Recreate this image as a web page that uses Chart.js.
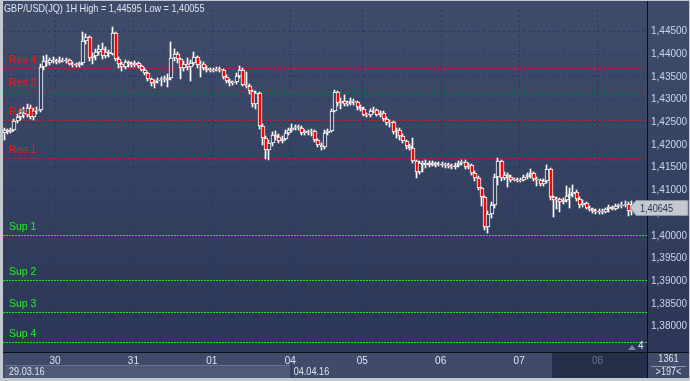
<!DOCTYPE html>
<html>
<head>
<meta charset="utf-8">
<script src="https://cdn.jsdelivr.net/npm/chart.js@4.4.0/dist/chart.umd.min.js"></script>
<style>
html, body { margin: 0; padding: 0; background: #2e3856; }
#wrap { position: relative; width: 690px; height: 381px; }
</style>
</head>
<body>
<div id="wrap"><canvas id="chart" width="690" height="381"></canvas></div>
<script>
// GBP/USD 1H candles
var opens = [
1.4226,1.4232,1.4229,1.4233,1.4252,1.4262,1.4270,1.4266,1.4282,1.4262,
1.4274,1.4277,1.4372,1.4386,1.4380,1.4388,1.4386,1.4383,1.4388,1.4385,
1.4387,1.4379,1.4377,1.4376,1.4380,1.4430,1.4437,1.4392,1.4396,1.4405,
1.4412,1.4396,1.4406,1.4400,1.4446,1.4390,1.4378,1.4372,1.4382,1.4378,
1.4376,1.4381,1.4374,1.4366,1.4358,1.4345,1.4336,1.4340,1.4343,1.4346,
1.4344,1.4348,1.4392,1.4400,1.4389,1.4370,1.4378,1.4373,1.4381,1.4393,
1.4376,1.4379,1.4370,1.4366,1.4364,1.4366,1.4367,1.4365,1.4350,1.4342,
1.4336,1.4338,1.4352,1.4366,1.4333,1.4331,1.4318,1.4290,1.4314,1.4242,
1.4216,1.4190,1.4204,1.4222,1.4218,1.4209,1.4214,1.4226,1.4232,1.4238,
1.4240,1.4237,1.4226,1.4230,1.4228,1.4230,1.4210,1.4200,1.4196,1.4226,
1.4231,1.4275,1.4316,1.4292,1.4298,1.4290,1.4293,1.4298,1.4294,1.4283,
1.4280,1.4267,1.4266,1.4275,1.4277,1.4267,1.4271,1.4258,1.4248,1.4250,
1.4228,1.4233,1.4220,1.4208,1.4198,1.4194,1.4165,1.4140,1.4160,1.4157,
1.4161,1.4157,1.4160,1.4156,1.4158,1.4156,1.4157,1.4154,1.4152,1.4156,
1.4161,1.4162,1.4152,1.4155,1.4138,1.4128,1.4105,1.4085,1.4020,1.4048,
1.4068,1.4130,1.4165,1.4128,1.4135,1.4130,1.4123,1.4124,1.4121,1.4124,
1.4130,1.4133,1.4138,1.4126,1.4122,1.4114,1.4120,1.4148,1.4085,1.4079,
1.4081,1.4075,1.4078,1.4088,1.4093,1.4096,1.4082,1.4068,1.4072,1.4062,
1.4058,1.4055,1.4052,1.4054,1.4053,1.4058,1.4063,1.4060,1.4065,1.4066,
1.4068,1.4070,1.4055
];
var highs = [
1.4238,1.4236,1.4238,1.4258,1.4268,1.4279,1.4283,1.4291,1.4288,1.4281,
1.4284,1.4378,1.4396,1.4398,1.4392,1.4393,1.4390,1.4394,1.4392,1.4391,
1.4390,1.4383,1.4381,1.4384,1.4450,1.4445,1.4440,1.4402,1.4412,1.4420,
1.4424,1.4415,1.4410,1.44595,1.4450,1.4394,1.4384,1.4387,1.4386,1.4383,
1.4385,1.4384,1.4377,1.4369,1.4360,1.4348,1.4344,1.4348,1.4350,1.4352,
1.4356,1.4426,1.4412,1.4404,1.4392,1.4385,1.4392,1.4388,1.4405,1.4397,
1.4386,1.4382,1.4374,1.4370,1.4370,1.4371,1.4372,1.4368,1.4354,1.4346,
1.4342,1.4358,1.4375,1.4369,1.4360,1.4335,1.4321,1.4318,1.4317,1.4246,
1.4220,1.4210,1.4228,1.4230,1.4224,1.4220,1.4232,1.4238,1.4246,1.4245,
1.4243,1.4242,1.4234,1.4234,1.4235,1.4232,1.4214,1.4205,1.4232,1.4236,
1.4280,1.4321,1.4319,1.4304,1.4310,1.4298,1.4303,1.4302,1.4297,1.4288,
1.4283,1.4271,1.4279,1.4283,1.4280,1.4276,1.4274,1.4262,1.4256,1.4253,
1.4238,1.4237,1.4224,1.4212,1.4202,1.4215,1.4168,1.4165,1.4165,1.4166,
1.4164,1.4164,1.4163,1.4162,1.4163,1.4161,1.4160,1.4158,1.4160,1.4165,
1.4166,1.4166,1.4160,1.4158,1.4142,1.4131,1.4108,1.4088,1.4054,1.4074,
1.4136,1.4172,1.4168,1.4140,1.4138,1.4133,1.4128,1.4127,1.4128,1.4135,
1.4138,1.4148,1.4141,1.4130,1.4126,1.4125,1.4156,1.4150,1.4088,1.4085,
1.4084,1.4083,1.4110,1.4106,1.4112,1.4100,1.4085,1.4078,1.4075,1.4066,
1.4062,1.4060,1.4058,1.4058,1.4062,1.4068,1.4066,1.4070,1.4071,1.4074,
1.4076,1.4074,1.4076
];
var lows = [
1.4210,1.4224,1.4226,1.4230,1.4248,1.4256,1.4260,1.4262,1.4257,1.4255,
1.4268,1.4272,1.4366,1.4374,1.4376,1.4380,1.4379,1.4381,1.4382,1.4381,
1.4376,1.4372,1.4371,1.4372,1.4376,1.4422,1.4386,1.4378,1.4388,1.4398,
1.4390,1.4392,1.4394,1.4398,1.4385,1.4370,1.4364,1.4367,1.4372,1.4371,
1.4373,1.4370,1.4362,1.4354,1.4340,1.4330,1.4325,1.4336,1.4330,1.4338,
1.4328,1.4344,1.4386,1.4380,1.4345,1.4362,1.4366,1.4342,1.4376,1.4370,
1.4350,1.4365,1.4361,1.4360,1.4361,1.4362,1.4361,1.4346,1.4337,1.4330,
1.4332,1.4334,1.4348,1.4329,1.4326,1.4313,1.4284,1.4280,1.4236,1.4200,
1.4170,1.4168,1.4198,1.4212,1.4204,1.4205,1.4210,1.4222,1.4228,1.4234,
1.4232,1.4222,1.4222,1.4223,1.4220,1.4206,1.4195,1.4188,1.4192,1.4222,
1.4228,1.4272,1.4286,1.4280,1.4286,1.4285,1.4288,1.4289,1.4278,1.4275,
1.4263,1.4261,1.4262,1.4270,1.4263,1.4262,1.4254,1.4244,1.4240,1.4224,
1.4215,1.4212,1.4205,1.4192,1.4188,1.4160,1.4128,1.4136,1.4140,1.4150,
1.4152,1.4153,1.4152,1.4153,1.4151,1.4150,1.4150,1.4147,1.4148,1.4152,
1.4157,1.4148,1.4148,1.4134,1.4120,1.4100,1.4066,1.4012,1.40055,1.4040,
1.4062,1.4112,1.4120,1.4122,1.4108,1.4119,1.4120,1.4118,1.4118,1.4120,
1.4126,1.4128,1.4121,1.4110,1.4109,1.4110,1.4116,1.4078,1.4042,1.4058,
1.4052,1.4070,1.4074,1.4062,1.4085,1.4076,1.4062,1.4064,1.4058,1.4054,
1.4051,1.4048,1.4049,1.4049,1.4050,1.4052,1.4056,1.4057,1.4061,1.4062,
1.4064,1.4043,1.4045
];
var closes = [
1.4232,1.4229,1.4233,1.4252,1.4262,1.4270,1.4266,1.4282,1.4262,1.4274,
1.4277,1.4372,1.4386,1.4380,1.4388,1.4386,1.4383,1.4388,1.4385,1.4387,
1.4379,1.4377,1.4376,1.4380,1.4430,1.4437,1.4392,1.4396,1.4405,1.4412,
1.4396,1.4406,1.4400,1.4446,1.4390,1.4378,1.4372,1.4382,1.4378,1.4376,
1.4381,1.4374,1.4366,1.4358,1.4345,1.4336,1.4340,1.4343,1.4346,1.4344,
1.4348,1.4392,1.4400,1.4389,1.4370,1.4378,1.4373,1.4381,1.4393,1.4376,
1.4379,1.4370,1.4366,1.4364,1.4366,1.4367,1.4365,1.4350,1.4342,1.4336,
1.4338,1.4352,1.4366,1.4333,1.4331,1.4318,1.4290,1.4314,1.4242,1.4216,
1.4190,1.4204,1.4222,1.4218,1.4209,1.4214,1.4226,1.4232,1.4238,1.4240,
1.4237,1.4226,1.4230,1.4228,1.4230,1.4210,1.4200,1.4196,1.4226,1.4231,
1.4275,1.4316,1.4292,1.4298,1.4290,1.4293,1.4298,1.4294,1.4283,1.4280,
1.4267,1.4266,1.4275,1.4277,1.4267,1.4271,1.4258,1.4248,1.4250,1.4228,
1.4233,1.4220,1.4208,1.4198,1.4194,1.4165,1.4140,1.4160,1.4157,1.4161,
1.4157,1.4160,1.4156,1.4158,1.4156,1.4157,1.4154,1.4152,1.4156,1.4161,
1.4162,1.4152,1.4155,1.4138,1.4128,1.4105,1.4085,1.4020,1.4048,1.4068,
1.4130,1.4165,1.4128,1.4135,1.4130,1.4123,1.4124,1.4121,1.4124,1.4130,
1.4133,1.4138,1.4126,1.4122,1.4114,1.4120,1.4148,1.4085,1.4079,1.4081,
1.4075,1.4078,1.4088,1.4093,1.4096,1.4082,1.4068,1.4072,1.4062,1.4058,
1.4055,1.4052,1.4054,1.4053,1.4058,1.4063,1.4060,1.4065,1.4066,1.4068,
1.4070,1.4055,1.40645
];

// x axis: one slot per hour, day labels on the first hour of each day
var dayNames = ['30', '31', '01', '04', '05', '06', '07', '08'];
var dayStart = [16, 40, 64, 88, 110, 134, 158, 182];
var slotCount = 197;
var dateTags = ['29.03.16', '04.04.16'];
var barsTotal = 1361;

// support / resistance levels
var levelNames = ['Res 4', 'Res 3', 'Res 2', 'Res 1', 'Sup 1', 'Sup 2', 'Sup 3', 'Sup 4'];
var levelValues = [1.4370, 1.4318, 1.4255, 1.4171, 1.4001, 1.3902, 1.3832, 1.3766];

var yMin = 1.37439, yMax = 1.44975, yStep = 0.005;

var FONT = "'Liberation Sans', Arial, sans-serif";
var GRID = '#1c3a6c';
var NARROW = 0.83;   // the terminal font is a condensed one

function fmt(v) { return v.toFixed(5).replace('.', ','); }

// condensed text: squeeze horizontally around the anchor point
function narrowText(ctx, text, x, y) {
    ctx.save();
    ctx.translate(x, y);
    ctx.scale(NARROW, 1);
    ctx.fillText(text, 0, 0);
    ctx.restore();
}

var labels = [];
for (var i = 0; i < slotCount; i++) {
    var k = dayStart.indexOf(i);
    labels.push(k >= 0 ? dayNames[k] : '');
}

var bodies = [], wicks = [], fills = [];
for (var i = 0; i < opens.length; i++) {
    bodies.push([opens[i], closes[i]]);
    wicks.push([lows[i], highs[i]]);
    fills.push(closes[i] < opens[i] ? '#ff0000' : '#34405e');
}

var chrome = {
    id: 'chrome',
    beforeDraw: function(chart) {
        var ctx = chart.ctx, a = chart.chartArea, W = chart.width, H = chart.height;
        ctx.save();
        var g = ctx.createLinearGradient(0, a.top, 0, a.bottom);
        g.addColorStop(0, '#3e4c6a');
        g.addColorStop(1, '#2c3656');
        ctx.fillStyle = g;
        ctx.fillRect(0, 0, W, a.bottom);
        ctx.fillStyle = '#3f4b68';
        ctx.fillRect(0, a.bottom, W, H - a.bottom);
        // darker scroll thumb under the last day
        ctx.fillStyle = '#262f4a';
        ctx.fillRect(552, a.bottom + 1, a.right - 552, H - a.bottom - 3);
        // date boxes
        var x = chart.scales.x;
        var split = x.getPixelForValue(dayStart[3]) - (x.width / slotCount) / 2;
        ctx.fillStyle = '#4d5977';
        ctx.fillRect(5, 366, split - 5, 12);
        ctx.fillStyle = '#66718d';
        ctx.fillRect(5, 365, split - 5, 1);
        ctx.fillStyle = '#2a3350';
        ctx.fillRect(split, 365, 1, 13);
        ctx.restore();
    },
    beforeDatasetsDraw: function(chart) {
        var ctx = chart.ctx, a = chart.chartArea, y = chart.scales.y;
        // keep candles on whole pixels so they stay crisp
        chart.getDatasetMeta(0).data.forEach(function(el) {
            el.x = Math.round(el.x);
            el.y = Math.round(el.y);
            el.base = Math.round(el.base);
        });
        chart.getDatasetMeta(1).data.forEach(function(el) {
            el.x = Math.round(el.x) - 0.5;
            el.y = Math.round(el.y);
            el.base = Math.round(el.base);
        });
        ctx.save();
        ctx.lineWidth = 1;
        levelNames.forEach(function(name, i) {
            var py = Math.round(y.getPixelForValue(levelValues[i])) + 0.5;
            var isRes = name.indexOf('Res') === 0;
            ctx.strokeStyle = isRes ? '#c41c1c' : '#1ee61e';
            ctx.setLineDash(isRes ? [3, 2] : [2, 1]);
            ctx.beginPath();
            ctx.moveTo(a.left, py);
            ctx.lineTo(a.right, py);
            ctx.stroke();
        });
        ctx.restore();
    },
    afterDatasetsDraw: function(chart) {
        var ctx = chart.ctx, y = chart.scales.y;
        ctx.save();
        ctx.font = '10.5px ' + FONT;
        ctx.textBaseline = 'bottom';
        levelNames.forEach(function(name, i) {
            var py = Math.round(y.getPixelForValue(levelValues[i]));
            ctx.fillStyle = name.indexOf('Res') === 0 ? '#ff1414' : '#22ee22';
            ctx.fillText(name, 9, py - 3);
        });
        ctx.restore();
    },
    afterDraw: function(chart) {
        var ctx = chart.ctx, a = chart.chartArea, W = chart.width, H = chart.height, y = chart.scales.y;
        ctx.save();
        // axis borders
        ctx.fillStyle = '#0c0f18';
        ctx.fillRect(a.right, 0, 1, H);
        ctx.fillRect(0, a.bottom, W, 1);
        // title
        var hi = Math.max.apply(null, highs), lo = Math.min.apply(null, lows);
        ctx.font = '11px ' + FONT;
        ctx.textBaseline = 'middle';
        ctx.fillStyle = '#dfe5f0';
        narrowText(ctx, 'GBP/USD(JQ) 1H High = ' + fmt(hi) + ' Low = ' + fmt(lo), 4, 9);
        // date tags
        var x = chart.scales.x;
        var split = x.getPixelForValue(dayStart[3]) - (x.width / slotCount) / 2;
        narrowText(ctx, dateTags[0], 9, 372);
        narrowText(ctx, dateTags[1], split + 3, 372);
        // bars counter cell
        ctx.textAlign = 'center';
        narrowText(ctx, String(barsTotal), (a.right + W) / 2, 359);
        narrowText(ctx, '>' + slotCount + '<', (a.right + W) / 2, 372);
        ctx.fillStyle = '#8a93a8';
        ctx.fillRect(a.right + 4, 366, W - a.right - 8, 1);
        // shift marker
        ctx.textAlign = 'left';
        ctx.fillStyle = '#e8ecf4';
        ctx.font = '10px ' + FONT;
        ctx.fillText(String(slotCount - opens.length), 638, 346);
        ctx.fillStyle = '#7c8498';
        ctx.beginPath();
        ctx.moveTo(628, 350); ctx.lineTo(636, 350); ctx.lineTo(632, 345); ctx.closePath();
        ctx.fill();
        // last price tag
        var last = closes[closes.length - 1];
        var py = Math.round(y.getPixelForValue(last)) + 0.5;
        ctx.fillStyle = '#c4c8d0';
        ctx.strokeStyle = '#8d94a4';
        ctx.setLineDash([]);
        ctx.beginPath();
        ctx.moveTo(630, py);
        ctx.lineTo(636, py - 7);
        ctx.lineTo(688, py - 7);
        ctx.lineTo(688, py + 8);
        ctx.lineTo(636, py + 8);
        ctx.closePath();
        ctx.fill();
        ctx.stroke();
        ctx.fillStyle = '#2a3550';
        ctx.font = '11px ' + FONT;
        ctx.textBaseline = 'middle';
        narrowText(ctx, fmt(last), 640, py + 1);
        // outer frame
        ctx.fillStyle = '#c3c8d2';
        ctx.fillRect(0, 0, W, 1);
        ctx.fillRect(0, 0, 3, H);
        ctx.fillRect(W - 1, 0, 1, H);
        ctx.fillRect(0, H - 3, W, 3);
        ctx.restore();
    }
};

Chart.defaults.font.family = FONT;
Chart.defaults.font.size = 10;

new Chart(document.getElementById('chart').getContext('2d'), {
    type: 'bar',
    data: {
        labels: labels,
        datasets: [{
            label: 'body',
            data: bodies,
            backgroundColor: fills,
            borderColor: '#ffffff',
            borderWidth: 1,
            borderSkipped: false,
            barThickness: 4,
            minBarLength: 1,
            grouped: false
        }, {
            label: 'wick',
            data: wicks,
            backgroundColor: '#ffffff',
            borderWidth: 0,
            barThickness: 1,
            grouped: false
        }]
    },
    options: {
        responsive: false,
        animation: false,
        devicePixelRatio: 1,
        layout: { padding: { left: 3, top: 3, right: 0, bottom: 3 } },
        plugins: { legend: { display: false }, tooltip: { enabled: false } },
        scales: {
            x: {
                type: 'category',
                offset: true,
                grid: {
                    offset: true,
                    drawTicks: false,
                    color: function(c) { return dayStart.indexOf(c.index) >= 0 ? GRID : 'transparent'; }
                },
                border: { display: false, dash: [2, 3] },
                ticks: {
                    autoSkip: false,
                    maxRotation: 0,
                    padding: 3,
                    labelOffset: -2,
                    font: { size: 10, family: FONT },
                    color: function(c) { return c.index === dayStart[dayStart.length - 1] ? '#66738f' : '#dfe5f0'; },
                    callback: function(v, i) { return labels[i]; }
                },
                afterFit: function(s) { s.height = 26; }
            },
            y: {
                position: 'right',
                min: yMin,
                max: yMax,
                grid: { color: GRID, drawTicks: false },
                border: { display: false, dash: [2, 3] },
                ticks: {
                    stepSize: yStep,
                    includeBounds: false,
                    padding: 4,
                    color: '#c9d5ea',
                    font: { size: 10, family: FONT },
                    callback: function(v) { return fmt(v); }
                },
                afterBuildTicks: function(s) {
                    s.ticks = s.ticks.filter(function(t) { return t.value > 1.3775; });
                },
                afterFit: function(s) { s.width = 43; }
            }
        }
    },
    plugins: [chrome]
});
</script>
</body>
</html>
